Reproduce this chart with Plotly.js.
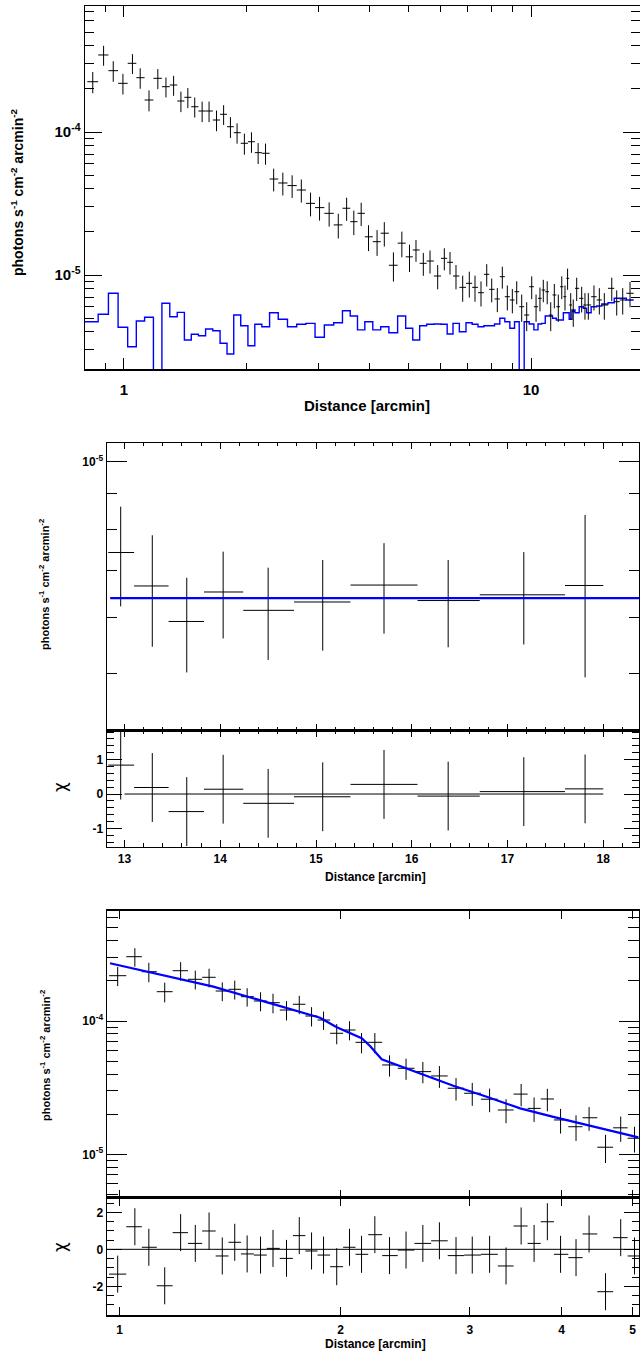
<!DOCTYPE html>
<html><head><meta charset="utf-8">
<script src="https://cdn.plot.ly/plotly-3.0.1.min.js"></script>
<style>html,body{margin:0;padding:0;background:#fff;}#chart{width:640px;height:1353px;}</style>
</head><body><div id="chart"></div>
<script>
// ---------------- DATA ----------------
const U = 1e-6; // values below are in units of 1e-6 photons s^-1 cm^-2 arcmin^-2

// Panel 1: surface brightness profile (black) and background (blue)
const p1_x = [0.838, 0.891, 0.941, 0.994, 1.049, 1.096, 1.152, 1.211, 1.268, 1.324, 1.380, 1.435, 1.492, 1.556, 1.618, 1.688, 1.757, 1.826, 1.896, 1.976, 2.057, 2.136, 2.227, 2.332, 2.456, 2.589, 2.727, 2.873, 3.023, 3.192, 3.361, 3.524, 3.670, 3.826, 3.988, 4.186, 4.361, 4.592, 4.816, 5.029, 5.217, 5.438, 5.648, 5.898, 6.124, 6.324, 6.542, 6.795, 7.054, 7.285, 7.536, 7.784, 8.007, 8.265, 8.502, 8.746, 8.998, 9.224, 9.487, 9.759, 10.04, 10.29, 10.52, 10.72, 10.96, 11.18, 11.41, 11.67, 11.90, 12.12, 12.30, 12.52, 12.70, 12.95, 13.32, 13.57, 13.83, 14.28, 14.72, 15.14, 15.79, 16.24, 16.80, 17.51];
const p1_y = [224.7, 345.6, 268.4, 219.0, 302.3, 239.7, 167.4, 237.4, 207.4, 213.1, 164.7, 174.8, 150.2, 140.2, 140.2, 121.3, 133.0, 108.9, 98.9, 83.4, 85.5, 71.7, 71.0, 46.9, 44.0, 42.2, 39.3, 31.7, 29.6, 27.0, 22.4, 29.3, 23.6, 27.0, 18.5, 17.1, 19.6, 11.7, 16.7, 13.4, 14.96, 12.07, 12.53, 9.84, 13.08, 12.27, 9.84, 8.20, 8.75, 8.20, 7.52, 10.11, 7.94, 6.80, 9.73, 7.05, 6.69, 7.64, 6.00, 5.25, 8.28, 6.00, 6.87, 7.85, 7.64, 5.25, 7.25, 6.00, 8.28, 7.05, 9.48, 6.17, 5.54, 8.07, 6.87, 6.17, 6.17, 7.05, 6.69, 6.17, 8.07, 6.51, 6.69, 7.45];
const p1_err = [38, 55, 44, 36, 48, 39, 28, 38, 33, 34, 27, 28, 24, 23, 23, 20, 21, 18, 16, 14, 14, 12, 12, 8.5, 8.0, 7.6, 7.2, 6.0, 5.6, 5.2, 4.4, 5.4, 4.6, 5.0, 3.8, 3.5, 3.8, 2.7, 3.4, 2.9, 2.6, 2.2, 2.3, 1.9, 2.3, 2.2, 1.9, 1.7, 1.8, 1.7, 1.5, 1.8, 1.5, 1.3, 1.7, 1.4, 1.3, 1.4, 1.3, 1.2, 1.5, 1.3, 1.3, 1.4, 1.4, 1.2, 1.4, 1.3, 1.5, 1.4, 1.6, 1.3, 1.2, 1.5, 1.4, 1.3, 1.3, 1.4, 1.4, 1.3, 1.5, 1.3, 1.4, 1.5];
const p1_bg = [4.71, 5.31, 7.45, 4.31, 3.15, 4.77, 5.06, 0, 6.34, 5.11, 5.48, 3.51, 3.85, 3.76, 4.19, 4.08, 3.33, 2.80, 5.25, 4.42, 3.20, 4.52, 4.35, 5.45, 4.90, 4.35, 4.52, 4.59, 3.67, 4.47, 4.64, 5.63, 5.17, 4.13, 4.71, 4.13, 4.35, 3.95, 5.17, 4.24, 3.51, 4.42, 4.52, 4.54, 4.52, 3.87, 4.59, 4.01, 4.64, 4.52, 4.35, 4.42, 4.42, 4.54, 4.98, 4.71, 4.24, 4.71, 0, 4.71, 4.54, 4.13, 4.54, 4.59, 5.17, 5.17, 4.98, 4.84, 4.84, 5.45, 5.45, 4.90, 5.69, 5.45, 6.00, 5.85, 5.45, 6.00, 6.07, 6.27, 6.40, 6.87, 6.87, 6.69];

// Panel 2: outer region 13-18 arcmin with constant fit
const p2_x  = [12.96, 13.29, 13.65, 14.03, 14.50, 15.07, 15.71, 16.38, 17.17, 17.81];
const p2_lo = [12.83, 13.10, 13.46, 13.83, 14.24, 14.77, 15.36, 16.06, 16.71, 17.60];
const p2_hi = [13.10, 13.46, 13.83, 14.24, 14.77, 15.36, 16.06, 16.71, 17.60, 18.00];
const p2_y   = [7.43, 6.66, 5.93, 6.53, 6.15, 6.32, 6.68, 6.35, 6.47, 6.67];
const p2_err = [1.20, 1.20, 0.91, 0.92, 0.92, 0.93, 0.98, 0.90, 0.97, 1.73];
const p2_model = 6.40;
const p2_model_x = [12.85, 18.5];
const p2_chi = [0.84, 0.19, -0.51, 0.14, -0.27, -0.08, 0.28, -0.06, 0.07, 0.15];
const p2_zero_x = [13, 18];

// Panel 3: inner 1-5 arcmin with model
const p3_x = [0.994, 1.049, 1.096, 1.152, 1.211, 1.268, 1.324, 1.380, 1.435, 1.492, 1.556, 1.618, 1.688, 1.757, 1.826, 1.896, 1.976, 2.057, 2.136, 2.227, 2.332, 2.456, 2.589, 2.727, 2.873, 3.023, 3.192, 3.361, 3.524, 3.670, 3.826, 3.988, 4.186, 4.361, 4.592, 4.816, 5.029];
const p3_y = [218.7, 303.7, 234.3, 165.9, 238.4, 205.5, 212.7, 167.9, 172.9, 152.2, 141.3, 137.2, 120.9, 133.5, 109.0, 101.7, 80.9, 85.6, 69.2, 69.2, 46.8, 44.2, 41.7, 38.7, 31.3, 28.7, 25.9, 21.5, 28.3, 22.1, 26.0, 18.1, 16.1, 18.8, 11.3, 15.8, 13.2];
const p3_err = [36, 48, 39, 28, 38, 33, 34, 27, 28, 24, 23, 23, 20, 21, 18, 16, 14, 14, 12, 12, 8.5, 8.0, 7.6, 7.2, 6.0, 5.6, 5.2, 4.4, 5.4, 4.6, 5.0, 3.8, 3.5, 3.8, 2.7, 3.4, 2.9];
const p3_chi = [-1.34, 1.22, 0.11, -1.97, 0.90, 0.32, 0.99, -0.36, 0.38, -0.25, -0.31, 0.05, -0.49, 0.74, -0.09, -0.31, -0.94, 0.11, -0.27, 0.79, -0.34, -0.04, 0.32, 0.46, -0.34, -0.31, -0.27, -0.90, 1.26, 0.32, 1.49, -0.27, -0.45, 0.83, -2.29, 0.63, -0.36];
const p3_model_x = [0.9703, 1.3418, 1.8750, 1.9762, 2.1371, 2.1935, 2.2754, 2.3356, 2.5664, 2.8487, 3.1634, 3.5129, 3.8984, 4.3287, 4.8058, 5.0898];
const p3_model_y = [271, 180.9, 105.9, 89.7, 74.2, 64.9, 51.6, 49.0, 40.5, 32.7, 27.0, 22.1, 19.1, 16.6, 14.5, 13.4];
const p3_zero_x = [0.96, 5.11];

// tick label sets
const xt1_vals = [1, 10], xt1_text = ['1', '10'];
const yt1_vals = [1e-5, 1e-4], yt1_text = ['10<sup>-5</sup>', '10<sup>-4</sup>'];
const yt2_vals = [1e-5], yt2_text = ['10<sup>-5</sup>'];
const chi2_vals = [-1, 0, 1], chi2_text = ['-1', '0', '1'];
const xt3_vals = [1, 2, 3, 4, 5], xt3_text = ['1', '2', '3', '4', '5'];
const chi3_vals = [-2, 0, 2], chi3_text = ['-2', '0', '2'];

// ---------------- HELPERS ----------------
const sc = a => a.map(v => v * U);
function logEdges(x) {
  const n = x.length, e = [x[0] / Math.sqrt(x[1] / x[0])];
  for (let i = 1; i < n; i++) e.push(Math.sqrt(x[i - 1] * x[i]));
  e.push(x[n - 1] * Math.sqrt(x[n - 1] / x[n - 2]));
  return e;
}
function xErr(x, e) {
  return { type: 'data', symmetric: false, array: x.map((v, i) => e[i + 1] - v), arrayminus: x.map((v, i) => v - e[i]),
           color: 'black', thickness: 1, width: 0 };
}
function yErr(arr) { return { type: 'data', array: arr, color: 'black', thickness: 1, width: 0 }; }
const FONT = 'Liberation Sans, Arial, Helvetica, sans-serif';
const BLUE = '#0000ff';

const e1 = logEdges(p1_x);
const e3 = logEdges(p3_x);
const X1MIN = -0.0958, X1MAX = 1.2678;

// blue step histogram for panel 1
const bgx = e1.slice(0, p1_x.length).concat([e1[p1_x.length]]);
bgx[0] = Math.min(bgx[0], Math.pow(10, X1MIN));
const bgv = p1_bg.map(v => v > 0 ? v * U : 1e-9);
const bgy = bgv.concat([bgv[bgv.length - 1]]);

const marker0 = { size: 2, color: 'black', opacity: 0 };

const traces = [
  { x: bgx, y: bgy, xaxis: 'x', yaxis: 'y', mode: 'lines', line: { color: BLUE, width: 1.4, shape: 'hv' }, hoverinfo: 'skip' },
  { x: p1_x, y: sc(p1_y), xaxis: 'x', yaxis: 'y', mode: 'markers', marker: marker0,
    error_x: xErr(p1_x, e1), error_y: yErr(sc(p1_err)) },

  { x: p2_x, y: sc(p2_y), xaxis: 'x2', yaxis: 'y2', mode: 'markers', marker: marker0,
    error_x: { type: 'data', symmetric: false, array: p2_x.map((v, i) => p2_hi[i] - v), arrayminus: p2_x.map((v, i) => v - p2_lo[i]), color: 'black', thickness: 1, width: 0 },
    error_y: yErr(sc(p2_err)) },
  { x: p2_model_x, y: p2_model_x.map(() => p2_model * U), xaxis: 'x2', yaxis: 'y2', mode: 'lines', line: { color: BLUE, width: 2.2 } },
  { x: p2_zero_x, y: [0, 0], xaxis: 'x3', yaxis: 'y3', mode: 'lines', line: { color: 'black', width: 1 } },
  { x: p2_x, y: p2_chi, xaxis: 'x3', yaxis: 'y3', mode: 'markers', marker: marker0,
    error_x: { type: 'data', symmetric: false, array: p2_x.map((v, i) => p2_hi[i] - v), arrayminus: p2_x.map((v, i) => v - p2_lo[i]), color: 'black', thickness: 1, width: 0 },
    error_y: { type: 'constant', value: 1, color: 'black', thickness: 1, width: 0 } },

  { x: p3_x, y: sc(p3_y), xaxis: 'x4', yaxis: 'y4', mode: 'markers', marker: marker0,
    error_x: xErr(p3_x, e3), error_y: yErr(sc(p3_err)) },
  { x: p3_model_x, y: sc(p3_model_y), xaxis: 'x4', yaxis: 'y4', mode: 'lines', line: { color: BLUE, width: 2.2 } },
  { x: p3_zero_x, y: [0, 0], xaxis: 'x5', yaxis: 'y5', mode: 'lines', line: { color: 'black', width: 1 } },
  { x: p3_x, y: p3_chi, xaxis: 'x5', yaxis: 'y5', mode: 'markers', marker: marker0,
    error_x: xErr(p3_x, e3),
    error_y: { type: 'constant', value: 1, color: 'black', thickness: 1, width: 0 } }
];

const H = 1353, W = 640;
const dy = (top, bot) => [1 - bot / H, 1 - top / H];
const base = { showline: true, linecolor: 'black', linewidth: 1.5, mirror: 'allticks', ticks: 'inside', tickcolor: 'black', tickwidth: 1,
  showgrid: false, zeroline: false, tickfont: { family: FONT, size: 12, color: 'black', weight: 'bold' } };
const minorArr = (vals, len) => ({ tickmode: 'array', tickvals: vals, ticks: 'inside', ticklen: len, tickcolor: 'black', tickwidth: 1, showgrid: false });
const minorLin = (d, len) => ({ tickmode: 'linear', tick0: 0, dtick: d, ticks: 'inside', ticklen: len, tickcolor: 'black', tickwidth: 1, showgrid: false });
const dec = (m, lo, hi) => { const r = []; for (let d = lo; d <= hi; d++) r.push(d * m); return r; };

const xdomA = [85 / W, 1];
const xdomB = [107 / W, 639 / W];

const layout = {
  width: W, height: H, margin: { l: 0, r: 0, t: 0, b: 0 }, showlegend: false,
  paper_bgcolor: 'white', plot_bgcolor: 'white', font: { family: FONT, color: 'black' },
  xaxis: Object.assign({}, base, { domain: xdomA, anchor: 'y', type: 'log', range: [X1MIN, X1MAX], tickmode: 'array', tickvals: xt1_vals, ticktext: xt1_text,
    ticklen: 11, ticklabelstandoff: 6, tickfont: { family: FONT, size: 15, color: 'black', weight: 'bold' }, minor: minorArr([0.9, 2, 3, 4, 5, 6, 7, 8, 9, 20], 6) }),
  yaxis: Object.assign({}, base, { domain: dy(6, 369), anchor: 'x', type: 'log', range: [-5.6573, -3.1189], tickmode: 'array', tickvals: yt1_vals, ticktext: yt1_text,
    ticklen: 17, tickfont: { family: FONT, size: 15, color: 'black', weight: 'bold' }, minor: minorArr(dec(1e-6, 3, 9).concat(dec(1e-5, 2, 9), dec(1e-4, 2, 7)), 9) }),

  xaxis2: Object.assign({}, base, { domain: xdomB, anchor: 'y2', range: [12.817, 18.373], tickmode: 'linear', tick0: 0, dtick: 1, ticklen: 6, showticklabels: false, minor: minorLin(0.2, 3) }),
  yaxis2: Object.assign({}, base, { domain: dy(443.3, 730), anchor: 'x2', type: 'log', range: [-5.381, -4.974], tickmode: 'array', tickvals: yt2_vals, ticktext: yt2_text,
    ticklen: 20, minor: minorArr(dec(1e-6, 4, 9), 10) }),
  xaxis3: Object.assign({}, base, { domain: xdomB, anchor: 'y3', range: [12.817, 18.373], tickmode: 'linear', tick0: 0, dtick: 1, ticklen: 7, minor: minorLin(0.2, 4) }),
  yaxis3: Object.assign({}, base, { domain: dy(730, 846.7), anchor: 'x3', range: [-1.53, 1.86], tickmode: 'array', tickvals: chi2_vals, ticktext: chi2_text,
    ticklen: 15, minor: minorLin(0.2, 7) }),

  xaxis4: Object.assign({}, base, { domain: xdomB, anchor: 'y4', type: 'log', range: [-0.01717, 0.7076], tickmode: 'array', tickvals: xt3_vals, ticktext: xt3_text, ticklen: 8, showticklabels: false }),
  yaxis4: Object.assign({}, base, { domain: dy(910.7, 1197.7), anchor: 'x4', type: 'log', range: [-5.3256, -3.1725], tickmode: 'array', tickvals: yt1_vals, ticktext: yt1_text,
    ticklen: 20, minor: minorArr(dec(1e-6, 5, 9).concat(dec(1e-5, 2, 9), dec(1e-4, 2, 6)), 11) }),
  xaxis5: Object.assign({}, base, { domain: xdomB, anchor: 'y5', type: 'log', range: [-0.01717, 0.7076], tickmode: 'array', tickvals: xt3_vals, ticktext: xt3_text, ticklen: 8, ticklabelstandoff: 3 }),
  yaxis5: Object.assign({}, base, { domain: dy(1197.7, 1315), anchor: 'x5', range: [-3.55, 2.79], tickmode: 'array', tickvals: chi3_vals, ticktext: chi3_text,
    ticklen: 15, minor: minorLin(0.5, 7) }),

  annotations: [
    { text: '<b>Distance [arcmin]</b>', x: 367 / W, y: 1 - 405 / H, font: { size: 15 } },
    { text: '<b>photons s<sup>-1</sup> cm<sup>-2</sup> arcmin<sup>-2</sup></b>', x: 17 / W, y: 1 - 192 / H, textangle: -90, font: { size: 14 } },
    { text: '<b>Distance [arcmin]</b>', x: 375 / W, y: 1 - 876.7 / H, font: { size: 12 } },
    { text: '<b>photons s<sup>-1</sup> cm<sup>-2</sup> arcmin<sup>-2</sup></b>', x: 44 / W, y: 1 - 585 / H, textangle: -90, font: { size: 11 } },
    { text: 'χ', x: 60 / W, y: 1 - 787 / H, textangle: -90, font: { size: 17, family: 'DejaVu Sans, sans-serif' } },
    { text: '<b>Distance [arcmin]</b>', x: 375 / W, y: 1 - 1344 / H, font: { size: 12 } },
    { text: '<b>photons s<sup>-1</sup> cm<sup>-2</sup> arcmin<sup>-2</sup></b>', x: 45 / W, y: 1 - 1056 / H, textangle: -90, font: { size: 11 } },
    { text: 'χ', x: 60 / W, y: 1 - 1247 / H, textangle: -90, font: { size: 17, family: 'DejaVu Sans, sans-serif' } }
  ].map(a => Object.assign({ xref: 'paper', yref: 'paper', showarrow: false, xanchor: 'center', yanchor: 'middle' }, a,
      { font: Object.assign({ family: FONT, color: 'black' }, a.font) }))
};

Plotly.newPlot('chart', traces, layout, { staticPlot: true, displayModeBar: false });
</script></body></html>
